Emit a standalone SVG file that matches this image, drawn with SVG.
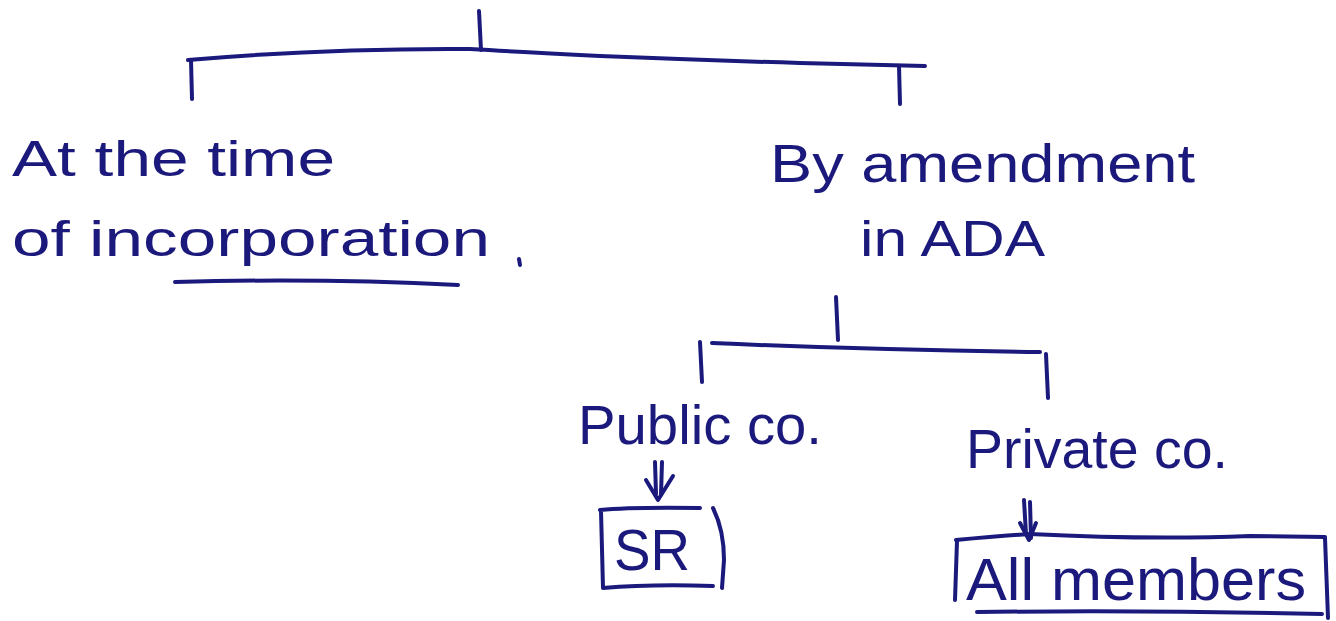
<svg xmlns="http://www.w3.org/2000/svg" width="1336" height="621" viewBox="0 0 1336 621">
  <style>
    .ink { fill: none; stroke: #1b1a7c; stroke-width: 4; stroke-linecap: round; stroke-linejoin: round; }
    .lbl { font-family: "Liberation Sans", "DejaVu Sans", sans-serif; fill: #1b1a7c; font-size: 50px; }
  </style>
  <rect width="1336" height="621" fill="#ffffff"/>

  <!-- branching strokes -->
  <g id="connectors" class="ink">
    <!-- top split -->
    <path d="M479,11 L481,50"/>
    <path d="M188,60 Q330,48 470,49 Q520,52 600,56 Q700,60 800,63 L925,66"/>
    <path d="M191,60 L192,99"/>
    <path d="M899,66 L900,104"/>
    <!-- split under "By amendment in ADA" -->
    <path d="M836,297 L838,340"/>
    <path d="M712,343 Q870,350 1040,352"/>
    <path d="M700,342 L702,382"/>
    <path d="M1046,354 L1048,398"/>
    <!-- double arrow to SR -->
    <path d="M655,462 L656,494"/>
    <path d="M662,462 L661,494"/>
    <path d="M646,480 L658,500 L673,476"/>
    <!-- double arrow to All members -->
    <path d="M1024,500 L1026,534"/>
    <path d="M1030,502 L1031,538"/>
    <path d="M1020,523 L1029,540 L1036,523"/>
  </g>

  <g id="node-incorporation">
    <text class="lbl" x="12" y="176" textLength="323" lengthAdjust="spacingAndGlyphs">At the time</text>
    <text class="lbl" x="12" y="256" textLength="478" lengthAdjust="spacingAndGlyphs">of incorporation</text>
    <path class="ink" d="M175,282 Q320,278 458,285"/>
    <path class="ink" d="M519,259 L520,265"/>
  </g>

  <g id="node-amendment">
    <text class="lbl" x="770" y="182" textLength="425" lengthAdjust="spacingAndGlyphs" style="font-size:54px">By amendment</text>
    <text class="lbl" x="860" y="256" textLength="185" lengthAdjust="spacingAndGlyphs">in ADA</text>
  </g>

  <g id="node-public">
    <text class="lbl" x="578" y="444" textLength="244" lengthAdjust="spacingAndGlyphs" style="font-size:56px">Public co.</text>
  </g>

  <g id="node-private">
    <text class="lbl" x="966" y="468" textLength="262" lengthAdjust="spacingAndGlyphs" style="font-size:56px">Private co.</text>
  </g>

  <g id="node-sr">
    <path class="ink" d="M600,510 Q630,507 700,508 M601,511 L603,588 Q650,584 713,586"/>
    <path class="ink" d="M713,508 Q724,530 724,560 L722,588"/>
    <text class="lbl" x="614" y="570" textLength="76" lengthAdjust="spacingAndGlyphs" style="font-size:58px">SR</text>
  </g>

  <g id="node-members">
    <path class="ink" d="M956,540 Q1000,536 1030,534 Q1150,540 1250,536 L1325,537"/>
    <path class="ink" d="M957,541 L955,600"/>
    <path class="ink" d="M1325,538 L1328,618"/>
    <path class="ink" d="M977,612 Q1150,610 1322,614"/>
    <text class="lbl" x="966" y="600" textLength="340" lengthAdjust="spacingAndGlyphs" style="font-size:60px">All members</text>
  </g>
</svg>
